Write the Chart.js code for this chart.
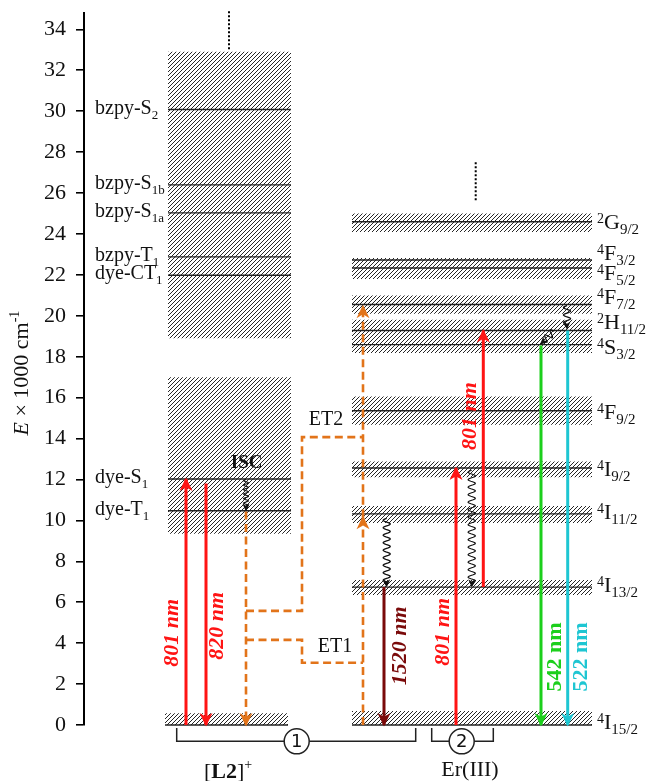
<!DOCTYPE html>
<html><head><meta charset="utf-8">
<script src="https://cdn.jsdelivr.net/npm/chart.js@4/dist/chart.umd.min.js"></script>
<style>html,body{margin:0;padding:0;background:#fff;overflow:hidden}#wrap{width:649px;height:781px;position:relative;overflow:hidden}</style>
</head><body><div id="wrap"><canvas id="c"></canvas></div>
<script>
// ---------- DATA (energies in 1000 cm^-1) ----------
const yTicks = [0,2,4,6,8,10,12,14,16,18,20,22,24,26,28,30,32,34];

// [L2]+ ligand
const ligandBoxes = [[32.9,18.9],[17.0,9.35]];          // [top, bottom]
const ligandGround = [0.57, 0];
const ligandLevels = [30.08,26.4,25.03,22.88,21.98,12.02,10.47];
const ligandNames = [['bzpy-S','2'],['bzpy-S','1b'],['bzpy-S','1a'],['bzpy-T','1'],['dye-CT','1'],['dye-S','1'],['dye-T','1']];

// Er(III)
const erBands = [[25.0,24.1],[22.83,21.8],[20.99,20.1],[19.81,18.18],[16.06,14.68],[12.88,12.11],[10.71,9.87],[7.09,6.36],[0.68,0]];
const erLevels = [24.6,22.73,22.34,20.55,19.28,18.59,15.36,12.56,10.32,6.74,0];
const erTerms = [['2','G','9/2'],['4','F','3/2'],['4','F','5/2'],['4','F','7/2'],['2','H','11/2'],['4','S','3/2'],['4','F','9/2'],['4','I','9/2'],['4','I','11/2'],['4','I','13/2'],['4','I','15/2']];

// radiative transitions
const transLabels = ['801 nm','820 nm','1520 nm','801 nm','801 nm','542 nm','522 nm'];
const transFrom   = [0, 11.8, 6.74, 0, 6.74, 18.55, 19.28];
const transTo     = [12.02, 0, 0, 12.56, 19.28, 0, 0];

// non-radiative (wavy) relaxations [from, to]
const relaxFrom = [12.0, 10.1, 12.45, 20.5, 19.25];
const relaxTo   = [10.5, 6.8, 6.8, 19.4, 18.65];

// energy-transfer paths (orange dashed)
const isc = [10.44, 0];
const et2Levels = [5.58, 14.07];
const et1Levels = [4.16, 3.04];
const erExcite = [[0,10.15],[10.15,20.47]];

// ---------- LAYOUT (horizontal columns, x units) ----------
const ligandX = [84,207], ligandGroundX = [81,204], erX = [268,508];
const transX = [102,122,300,372,399.3,457,483.7];
const transLabelPos = [[88,4.5],[133,4.85],[316,3.87],[359,4.55],[386,15.1],[471,3.33],[497.7,3.33]];
const transColors = ['#ff1414','#ff1414','#7a0a0a','#ff1414','#ff1414','#1ccf1c','#1ec6d2'];
const transFonts = ['bold italic','bold italic','bold italic','bold italic','bold italic','bold','bold'];
const relaxPts = [[162,162],[302.7,302.7],[387.7,387.7],[483,483],[470,457]];
const iscX = 162, etCornerX = 218, erEtX = 279;
const termLabelY = [24.63,23.1,22.1,20.96,19.74,18.5,15.33,12.56,10.44,6.85,0.16];
const brackets = [[92.7,331.7],[347.7,409.3]];
const circles = [[212.7,'1'],[377.7,'2']];
const SERIF = '"Liberation Serif","Times New Roman",serif';
const ORANGE = '#e2741a';

function hatch(){
  const s=4, c=document.createElement('canvas'); c.width=s; c.height=s;
  const g=c.getContext('2d'); g.strokeStyle='#262626'; g.lineWidth=1.0;
  g.beginPath(); g.moveTo(0,s); g.lineTo(s,0); g.moveTo(-1,1); g.lineTo(1,-1); g.moveTo(s-1,s+1); g.lineTo(s+1,s-1); g.stroke();
  return c.getContext('2d').createPattern(c,'repeat');
}
const pat = hatch();

const ds = [];
function line(pts, o){
  ds.push(Object.assign({data: pts.map(p=>({x:p[0],y:p[1]})), borderColor:'#000', borderWidth:1.4,
    pointRadius:0, fill:false, tension:0, clip:false, order:4}, o));
}
function band(x0,x1,top,bottom){
  ds.push({data:[{x:x0,y:top},{x:x1,y:top}], borderWidth:0, borderColor:'rgba(0,0,0,0)', pointRadius:0,
    backgroundColor:pat, fill:{value:bottom}, order:9});
}
ligandBoxes.forEach(b=>band(ligandX[0],ligandX[1],b[0],b[1]));
band(ligandGroundX[0],ligandGroundX[1],ligandGround[0],ligandGround[1]);
erBands.forEach(b=>band(erX[0],erX[1],b[0],b[1]));
ligandLevels.forEach(v=>line([[ligandX[0],v],[ligandX[1],v]],{borderColor:'#222'}));
line([[ligandGroundX[0],0],[ligandGroundX[1],0]],{borderColor:'#222',borderWidth:1.6});
erLevels.forEach(v=>line([[erX[0],v],[erX[1],v]],{borderColor:'#222',borderWidth:v===0?1.6:1.4}));
line([[145,34.88],[145,32.93]],{borderDash:[2,2],borderWidth:2});
line([[391.7,27.5],[391.7,25.6]],{borderDash:[2,2],borderWidth:2});
const dashO = {borderColor:ORANGE,borderWidth:2.6,borderDash:[8,4.5],order:2,borderJoinStyle:'miter'};
line([[iscX,isc[0]],[iscX,isc[1]]],dashO);
line([[iscX,et2Levels[0]],[etCornerX,et2Levels[0]],[etCornerX,et2Levels[1]],[erEtX,et2Levels[1]]],dashO);
line([[iscX,et1Levels[0]],[etCornerX,et1Levels[0]],[etCornerX,et1Levels[1]],[erEtX,et1Levels[1]]],dashO);
erExcite.forEach(e=>line([[erEtX,e[0]],[erEtX,e[1]]],dashO));
transX.forEach((x,i)=>line([[x,transFrom[i]],[x,transTo[i]]],{borderColor:transColors[i],borderWidth:3,order:1}));
brackets.forEach(b=>line([[b[0],-0.15],[b[0],-0.8],[b[1],-0.8],[b[1],-0.15]],{borderWidth:1.5,borderColor:'#222',order:3}));

function head(ctx,tx,ty,dx,dy,color,L,W){
  const n=Math.hypot(dx,dy); dx/=n; dy/=n; const px=-dy, py=dx;
  ctx.save(); ctx.fillStyle=color; ctx.beginPath();
  ctx.moveTo(tx+dx*1.5,ty+dy*1.5);
  ctx.lineTo(tx-dx*L+px*W, ty-dy*L+py*W);
  ctx.lineTo(tx-dx*(L*0.68), ty-dy*(L*0.68));
  ctx.lineTo(tx-dx*L-px*W, ty-dy*L-py*W);
  ctx.closePath(); ctx.fill(); ctx.restore();
}
function runs(ctx, parts, x, y, align){
  let w=0; parts.forEach(p=>{ctx.font=p[1]; w+=ctx.measureText(p[0]).width;});
  let cx = align==='left'?x:(align==='right'?x-w:x-w/2);
  ctx.textAlign='left'; ctx.textBaseline='alphabetic';
  parts.forEach(p=>{ctx.font=p[1]; ctx.fillText(p[0],cx,y+p[2]); cx+=ctx.measureText(p[0]).width;});
}

const deco = {
  id:'deco',
  afterDatasetsDraw(chart){
    const {ctx, scales:{x,y}, chartArea} = chart;
    const X=v=>x.getPixelForValue(v), Y=v=>y.getPixelForValue(v);
    ctx.save();
    transX.forEach((xv,i)=>{
      const dir = transTo[i]>transFrom[i]?-1:1;
      head(ctx,X(xv),Y(transTo[i]),0,dir,transColors[i],12,6.5);
    });
    head(ctx,X(iscX),Y(isc[1]),0,1,ORANGE,12,6.5);
    erExcite.forEach(e=>head(ctx,X(erEtX),Y(e[1]),0,-1,ORANGE,12,6.5));
    relaxFrom.forEach((f,i)=>{
      const x0=X(relaxPts[i][0]), y0=Y(f), x1=X(relaxPts[i][1]), y1=Y(relaxTo[i]);
      const len=Math.hypot(x1-x0,y1-y0), dx=(x1-x0)/len, dy=(y1-y0)/len, px=-dy, py=dx;
      const amp = i===0?2.4:3.6, per = i===0?4.5:7.5, wl=len-5;
      ctx.strokeStyle='#111'; ctx.lineWidth=1.2; ctx.beginPath();
      for(let s=0;s<=wl;s+=0.5){
        const o=amp*Math.sin(2*Math.PI*s/per);
        const xx=x0+dx*s+px*o, yy=y0+dy*s+py*o;
        s===0?ctx.moveTo(xx,yy):ctx.lineTo(xx,yy);
      }
      ctx.lineTo(x1,y1); ctx.stroke();
      head(ctx,x1,y1,dx,dy,'#111',6.5,3.5);
    });
    circles.forEach(c=>{
      ctx.beginPath(); ctx.arc(X(c[0]),Y(-0.8),12.5,0,2*Math.PI);
      ctx.fillStyle='#fff'; ctx.fill(); ctx.lineWidth=1.5; ctx.strokeStyle='#222'; ctx.stroke();
      ctx.fillStyle='#111'; ctx.font='18px "DejaVu Sans"'; ctx.textAlign='center'; ctx.textBaseline='middle';
      ctx.fillText(c[1],X(c[0]),Y(-0.8)+1);
    });
    ctx.fillStyle='#111';
    ligandLevels.forEach((v,i)=>{
      runs(ctx,[[ligandNames[i][0],'20px '+SERIF,0],[ligandNames[i][1],'13px '+SERIF,5]],X(11),Y(v)+4,'left');
    });
    erTerms.forEach((t,i)=>{
      runs(ctx,[[t[0],'14px '+SERIF,-6],[t[1],'22px '+SERIF,0],[t[2],'15px '+SERIF,5]],X(513),Y(termLabelY[i])+7.5,'left');
    });
    transLabels.forEach((t,i)=>{
      ctx.save(); ctx.translate(X(transLabelPos[i][0]),Y(transLabelPos[i][1])); ctx.rotate(-Math.PI/2);
      ctx.fillStyle=transColors[i]; ctx.font=transFonts[i]+' 22px '+SERIF; ctx.textAlign='center'; ctx.textBaseline='middle';
      ctx.fillText(t,0,0); ctx.restore();
    });
    ctx.fillStyle='#111'; ctx.textAlign='center'; ctx.textBaseline='middle';
    ctx.font='bold 19px '+SERIF; ctx.fillText('ISC',X(162.7),Y(12.78));
    ctx.font='20px '+SERIF; ctx.fillText('ET2',X(242),Y(14.93)); ctx.fillText('ET1',X(251),Y(3.83));
    runs(ctx,[['[','22px '+SERIF,0],['L2','bold 22px '+SERIF,0],[']','22px '+SERIF,0],['+','14px '+SERIF,-9]],X(144),Y(-2.2)+8,'center');
    ctx.font='22px '+SERIF; ctx.textAlign='center'; ctx.textBaseline='middle'; ctx.fillText('Er(III)',X(386),Y(-2.2));
    ctx.save(); ctx.translate(chartArea.left-63,Y(17.2)); ctx.rotate(-Math.PI/2); ctx.fillStyle='#111';
    runs(ctx,[['E','italic 22px '+SERIF,0],[' \u00d7 1000 cm','22px '+SERIF,0],['-1','14px '+SERIF,-9]],0,7,'center');
    ctx.restore();
    ctx.restore();
  }
};

new Chart(document.getElementById('c'),{
  type:'line',
  data:{datasets:ds},
  options:{
    responsive:true, maintainAspectRatio:false, animation:false, devicePixelRatio:1, events:[],
    layout:{padding:{left:0,right:0,top:13,bottom:56}},
    plugins:{legend:{display:false},tooltip:{enabled:false}},
    scales:{
      x:{type:'linear',min:0,max:565,display:false},
      y:{type:'linear',min:0,max:34.8,
        afterBuildTicks:s=>{s.ticks=yTicks.map(v=>({value:v}));},
        afterFit:s=>{s.width=84; s.paddingTop=0; s.paddingBottom=0;},
        border:{display:true,color:'#000',width:2},
        grid:{drawOnChartArea:false,drawTicks:true,tickLength:8,color:'#000',lineWidth:1.6},
        ticks:{color:'#111',padding:10,font:{family:SERIF,size:22}}
      }
    }
  },
  plugins:[deco]
});
</script></body></html>
